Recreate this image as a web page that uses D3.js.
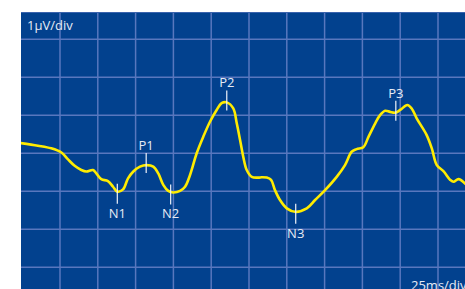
<!DOCTYPE html>
<html>
<head>
<meta charset="utf-8">
<script src="https://cdn.jsdelivr.net/npm/d3@7"></script>
<style>
  html, body { margin: 0; padding: 0; background: #fff; }
  svg { display: block; }
  text { font-family: "Open Sans", sans-serif; fill: #e6ebf5; }
</style>
</head>
<body>
<svg id="chart"></svg>
<script>
// time in ms, amplitude in microvolts
const timeMs = [-1, 10.4, 19.2, 25.9, 30.3, 34.7, 39.1, 42.4, 46.8, 49.0, 52.3, 56.7, 60.1, 62.9,
  66.7, 70.0, 73.5, 77.9, 82.3, 86.7, 90.0, 93.3, 96.6, 99.9, 104.4, 107.7, 111.0, 115.4,
  119.8, 124.2, 128.6, 131.9, 135.3, 139.6, 141.9, 144.1, 146.2, 148.5, 151.8, 156.2, 158.4,
  161.7, 164.6, 167.2, 170.5, 175.0, 180.5, 188.2, 193.7, 200.3, 208.0, 213.5, 217.9, 221.2,
  225.6, 229.1, 233.5, 236.8, 240.1, 243.3, 246.7, 250.0, 254.7, 257.6, 260.9, 267.5, 270.9,
  274.2, 278.6, 283.1, 285.3, 288.6, 294];
const amplitudeUv = [0.27, 0.20, 0.13, 0.02, -0.16, -0.33, -0.44, -0.48, -0.44, -0.53, -0.68, -0.73, -0.88, -1.01,
  -0.95, -0.66, -0.48, -0.35, -0.31, -0.35, -0.53, -0.83, -0.99, -1.03, -0.99, -0.88, -0.57, 0.00,
  0.44, 0.83, 1.14, 1.32, 1.34, 1.18, 0.79, 0.35, -0.09, -0.44, -0.62, -0.64, -0.63,
  -0.64, -0.70, -0.97, -1.23, -1.45, -1.54, -1.45, -1.23, -0.97, -0.62, -0.31, 0.04, 0.11,
  0.16, 0.44, 0.79, 1.01, 1.12, 1.09, 1.07, 1.14, 1.27, 1.18, 0.92, 0.48, 0.13,
  -0.31, -0.47, -0.70, -0.75, -0.68, -0.84];

const peakNames = ['N1', 'P1', 'N2', 'P2', 'N3', 'P3'];
const peakTimes = [62.9, 82.0, 98.2, 135.3, 180.9, 247.1];
const peakValues = [-1.01, -0.31, -1.03, 1.34, -1.54, 1.07];

const xDivLabel = '25ms/div';
const yDivLabel = '1\u03bcV/div';

const width = 465;
const height = 289;
const plot = { left: 21, top: 12, right: 465, bottom: 289 };
const div = 37.8;

const svg = d3.select('#chart')
  .attr('width', width)
  .attr('height', height);

// 25 ms per division, 1 uV per division
const x = d3.scaleLinear().domain([0, 300]).range([22.2, 22.2 + 12 * div]);
const y = d3.scaleLinear().domain([0, 1]).range([153.3, 153.3 - 38]);

svg.append('rect')
  .attr('x', plot.left)
  .attr('y', plot.top)
  .attr('width', plot.right - plot.left)
  .attr('height', plot.bottom - plot.top)
  .style('fill', '#02418e');

svg.append('clipPath').attr('id', 'clip')
  .append('rect')
  .attr('x', plot.left)
  .attr('y', plot.top)
  .attr('width', plot.right - plot.left)
  .attr('height', plot.bottom - plot.top);

const grid = svg.append('g').attr('clip-path', 'url(#clip)');

grid.selectAll('line.v')
  .data(d3.range(25, 300, 25))
  .enter()
  .append('line')
  .attr('class', 'v')
  .attr('x1', d => x(d))
  .attr('x2', d => x(d))
  .attr('y1', plot.top)
  .attr('y2', plot.bottom)
  .style('stroke', '#5877be')
  .style('stroke-width', 1.5);

grid.selectAll('line.h')
  .data(d3.range(-3, 4))
  .enter()
  .append('line')
  .attr('class', 'h')
  .attr('x1', plot.left)
  .attr('x2', plot.right)
  .attr('y1', d => y(d))
  .attr('y2', d => y(d))
  .style('stroke', '#5877be')
  .style('stroke-width', 1.5);

grid.append('line')
  .attr('x1', plot.left).attr('x2', plot.right)
  .attr('y1', plot.top + 0.5).attr('y2', plot.top + 0.5)
  .style('stroke', '#3a63ad')
  .style('stroke-width', 1);

const points = timeMs.map((t, i) => [t, amplitudeUv[i]]);

const line = d3.line()
  .x(d => x(d[0]))
  .y(d => y(d[1]))
  .curve(d3.curveCatmullRom.alpha(0.5));

grid.append('path')
  .datum(points)
  .attr('d', line)
  .style('fill', 'none')
  .style('stroke', '#ffec00')
  .style('stroke-width', 2.6)
  .style('stroke-linejoin', 'round');

// peak markers
const peaks = peakNames.map((name, i) => ({ name, t: peakTimes[i], v: peakValues[i], pos: name[0] === 'P' }));

svg.selectAll('line.tick')
  .data(peaks)
  .enter()
  .append('line')
  .attr('class', 'tick')
  .attr('x1', d => x(d.t))
  .attr('x2', d => x(d.t))
  .attr('y1', d => d.pos ? y(d.v) - 12 : y(d.v) - 8)
  .attr('y2', d => d.pos ? y(d.v) + 8 : y(d.v) + 12)
  .style('stroke', '#f0f3fa')
  .style('stroke-width', 1.2);

svg.selectAll('text.peak')
  .data(peaks)
  .enter()
  .append('text')
  .attr('class', 'peak')
  .attr('x', d => x(d.t))
  .attr('y', d => d.pos ? y(d.v) - 15 : y(d.v) + 26)
  .attr('text-anchor', 'middle')
  .style('font-size', '13px')
  .text(d => d.name);

svg.append('text')
  .attr('x', 27)
  .attr('y', 30)
  .style('font-size', '13px')
  .text(yDivLabel);

svg.append('text')
  .attr('x', 411)
  .attr('y', 290)
  .style('font-size', '13px')
  .text(xDivLabel);
</script>
</body>
</html>
